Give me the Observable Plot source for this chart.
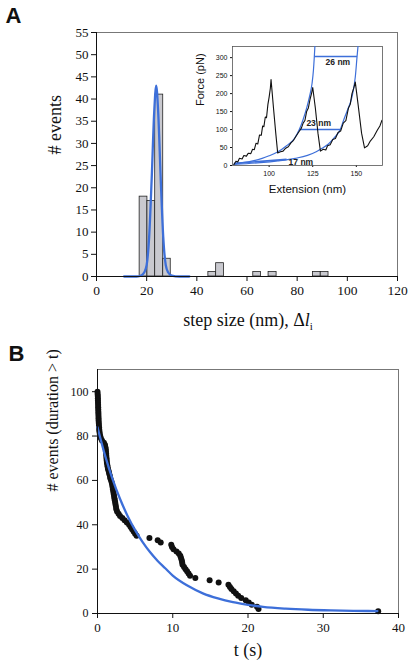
<!DOCTYPE html>
<html><head><meta charset="utf-8">
<script src="https://cdn.jsdelivr.net/npm/d3@7"></script>
<script src="https://cdn.jsdelivr.net/npm/@observablehq/plot@0.6"></script>
<style>
body{margin:0;background:#fff;}
#fig{position:relative;width:411px;height:671px;overflow:hidden;background:#fff;}
#fig > svg{position:absolute;}
</style></head><body><div id="fig"></div>
<script>
// ---------- Panel A: histogram of step sizes ----------
const barLeft  = [17.2, 20.3, 23.4, 26.6, 44.6, 47.7, 62.5, 68.6, 86.3, 89.4];
const barRight = [20.3, 23.4, 26.6, 29.6, 47.7, 50.8, 65.6, 71.8, 89.4, 92.5];
const barCount = [18, 17, 41, 4, 1, 3, 1, 1, 1, 1];
const gaussX = [11, 16, 18, 19, 20, 21, 22, 23, 23.8, 24.6, 25.6, 26.6, 27.6, 28.6, 30, 33, 37];
const gaussY = [0, 0, 0.3, 0.9, 2.6, 9, 22, 37, 43, 37, 22, 9, 2.6, 0.9, 0.2, 0, 0];
const xTicksA = [0, 20, 40, 60, 80, 100, 120];
const yTicksA = [0, 5, 10, 15, 20, 25, 30, 35, 40, 45, 50, 55];

// ---------- Panel A inset: force-extension trace ----------
const traceX = [79.7,81,82,83,84.5,85.5,87,88,89.5,90.5,91.5,92.5,93.5,94.5,95.5,96.3,97,97.8,98.5,99.3,100,100.7,101.1,102.5,103.8,104.9,106.5,108,109.5,111,112.5,114,115.5,117,118.5,119.5,120.5,121.5,122.5,123.5,124.3,125,126.5,128,129.4,131,132.5,133.5,135,136.5,138,139.5,141,142.5,144,145.5,146.5,147.5,148.5,149.4,151,153,154.7,156.5,158,160,162,163.5,164.7];
const traceY = [2,12,10,20,18,28,26,34,33,45,44,62,60,85,84,110,108,135,133,170,190,215,239,160,90,35,38,40,48,52,63,70,82,93,104,118,125,150,160,185,200,217,160,90,40,45,43,55,58,72,75,92,96,118,125,160,170,200,215,232,170,90,49,55,68,80,98,110,126];
const wlcAX = [80, 90, 96, 100, 105, 110, 114.5, 117.3, 119.5, 121.7, 123.3, 124.6, 125.4, 125.9, 126.4];
const wlcAY = [5, 12, 20, 27, 38, 55, 75, 100, 128, 163, 195, 228, 265, 302, 345];
const wlcBX = [80, 95, 105, 115, 122, 127, 130, 134, 137.5, 140.8, 142.7, 145, 147.5, 149.4, 150.4, 151.2];
const wlcBY = [3, 8, 13, 20, 28, 38, 47, 60, 78, 100, 126, 155, 191, 246, 302, 345];
const stepLabels = ["26 nm", "23 nm", "17 nm"];
const stepX1 = [125.9, 117.3, 80];
const stepX2 = [150.4, 140.8, 110];
const stepF1 = [303, 100, 6];
const stepF2 = [303, 100, 17];
const labelX = [139.4, 128.4, 118.2];
const labelF = [286, 117, 10];
const insetXTicks = [100, 125, 150];
const insetYTicks = [0, 50, 100, 150, 200, 250, 300];

// ---------- Panel B: survival of events ----------
const timeS = [0.0,0.02,0.04,0.05,0.06,0.07,0.08,0.09,0.1,0.11,0.12,0.13,0.14,0.15,0.17,0.19,0.21,0.23,0.26,0.3,0.36,0.45,0.6,0.85,1.0,1.05,1.1,1.12,1.15,1.17,1.2,1.22,1.25,1.3,1.35,1.4,1.5,1.55,1.65,1.7,1.8,1.9,1.95,2.0,2.05,2.1,2.15,2.2,2.25,2.3,2.35,2.4,2.45,2.5,2.6,2.8,3.0,3.3,3.6,3.9,4.2,4.4,4.6,4.8,5.0,5.2,6.9,8.0,8.4,9.8,9.9,10.1,10.5,10.8,11.0,11.1,11.2,11.25,11.3,11.5,11.7,11.9,12.1,12.3,13.0,14.9,16.1,17.4,17.6,17.8,18.1,18.4,18.7,19.1,19.7,20.1,20.5,21.2,21.4,37.3];
const eventsN = [100,99,98,97,96,95,94,93,92,91,90,89,88,87,86,85,84,83,82,81,80,79,78,77,76,75,74,73,72,71,70,69,68,67,66,65,64,63,62,61,60,59,58,57,56,55,54,53,52,51,50,49,48,47,46,45,44,43,42,41,40,39,38,37,36,35,34,33,32,31,30,29,28,27,26,25,24,23,22,21,20,19,18,17,16,15,14,13,12,11,10,9,8,7,6,5,4,3,2,1];
const fitT = [0, 1, 2, 3, 4, 5, 6, 7, 8, 9, 10, 12, 14, 16, 18, 20, 22, 25, 28, 31, 34, 37.2];
const fitN = [84, 71.3, 60.6, 51.6, 44, 37.6, 32.2, 27.6, 23.7, 20.4, 17.1, 12.5, 9.1, 6.8, 5.1, 3.9, 3.0, 2.2, 1.7, 1.4, 1.2, 1.1];
const xTicksB = [0, 10, 20, 30, 40];
const yTicksB = [0, 20, 40, 60, 80, 100];

// ---------- build tables ----------
const bars = barCount.map((n, i) => ({x1: barLeft[i], x2: barRight[i], n}));
const gauss = gaussX.map((x, i) => ({x, y: gaussY[i]}));
const trace = traceX.map((x, i) => ({x, y: traceY[i]}));
const wlcA = wlcAX.map((x, i) => ({x, y: wlcAY[i]}));
const wlcB = wlcBX.map((x, i) => ({x, y: wlcBY[i]}));
const steps = stepLabels.map((s, i) => ({s, x1: stepX1[i], x2: stepX2[i], y1: stepF1[i], y2: stepF2[i], lx: labelX[i], ly: labelF[i]}));
const events = timeS.map((t, i) => ({t, n: eventsN[i]}));
const fit = fitT.map((t, i) => ({t, n: fitN[i]}));

const blue = "#3d6fd9";
const serif = "'Liberation Serif', 'Times New Roman', serif";
const sans = "'Liberation Sans', Arial, sans-serif";
const fig = document.getElementById("fig");

// Panel A
const plotA = Plot.plot({
  width: 411, height: 340,
  marginLeft: 96, marginRight: 14, marginTop: 32, marginBottom: 64,
  style: {fontFamily: serif, fontSize: "13px", color: "#111", background: "transparent", overflow: "visible"},
  x: {domain: [0, 120]},
  y: {domain: [0, 55]},
  marks: [
    Plot.frame({stroke: "#777", strokeWidth: 1}),
    Plot.axisX({ticks: xTicksA, tickSize: 5, tickPadding: 4, label: null, fontSize: 13.5}),
    Plot.axisY({ticks: yTicksA, tickSize: 5, tickPadding: 3, label: null}),
    Plot.rectY(bars, {x1: "x1", x2: "x2", y: "n", fill: "#c9c9cf", stroke: "#222", strokeWidth: 0.8}),
    Plot.line(gauss, {x: "x", y: "y", stroke: blue, strokeWidth: 2.3, curve: "monotone-x"}),
    Plot.ruleX([0], {stroke: "#111"}),
    Plot.ruleY([0], {stroke: "#111", strokeWidth: 1.2}),
    Plot.text(["# events"], {frameAnchor: "left", dx: -41, rotate: -90, fontSize: 18, fill: "#111"}),
    Plot.text(["A"], {frameAnchor: "top-left", dx: -91, dy: -25, textAnchor: "start", lineAnchor: "top", fontSize: 22, fontWeight: "bold", fontFamily: sans, fill: "#111"})
  ]
});
plotA.style.left = "0px"; plotA.style.top = "0px";
{
  const t = d3.select(plotA).append("text")
    .attr("x", 248).attr("y", 326).attr("text-anchor", "middle")
    .attr("font-family", serif).attr("font-size", 18).attr("fill", "#111");
  t.append("tspan").text("step size (nm), \u0394");
  t.append("tspan").attr("font-style", "italic").text("l");
  t.append("tspan").attr("font-size", 11).attr("dy", 4).text("i");
}
fig.appendChild(plotA);

// Inset
const plotI = Plot.plot({
  width: 202, height: 162,
  marginLeft: 44, marginRight: 8, marginTop: 6, marginBottom: 37,
  style: {fontFamily: sans, fontSize: "7px", color: "#111", background: "#fff", overflow: "visible"},
  x: {domain: [79, 165]},
  y: {domain: [0, 331]},
  marks: [
    Plot.axisX({ticks: insetXTicks, tickSize: 2, tickPadding: 4, label: null}),
    Plot.axisY({ticks: insetYTicks, tickSize: 2, tickPadding: 3, label: null}),
    Plot.frame({stroke: "#555", strokeWidth: 0.8}),
    Plot.line(wlcA, {x: "x", y: "y", stroke: blue, strokeWidth: 1.2, curve: "monotone-x", clip: true}),
    Plot.line(wlcB, {x: "x", y: "y", stroke: blue, strokeWidth: 1.2, curve: "monotone-x", clip: true}),
    Plot.link(steps, {x1: "x1", x2: "x2", y1: "y1", y2: "y2", stroke: blue, strokeWidth: 1.6}),
    Plot.line(trace, {x: "x", y: "y", stroke: "#111", strokeWidth: 1.1, clip: true}),
    Plot.text(steps, {x: "lx", y: "ly", text: "s", fontSize: 8.5, fontWeight: "bold", fill: "#222"}),
    Plot.text(["Force (pN)"], {frameAnchor: "left", dx: -32, rotate: -90, fontSize: 11, fill: "#111"}),
    Plot.text(["Extension (nm)"], {frameAnchor: "bottom", dy: 27, fontSize: 11.5, fill: "#111"})
  ]
});
plotI.style.left = "188px"; plotI.style.top = "40px";
fig.appendChild(plotI);

// Panel B
const plotB = Plot.plot({
  width: 411, height: 331,
  marginLeft: 97, marginRight: 13, marginTop: 29, marginBottom: 58,
  style: {fontFamily: serif, fontSize: "12px", color: "#111", background: "transparent", overflow: "visible"},
  x: {domain: [0, 40]},
  y: {domain: [0, 110]},
  marks: [
    Plot.frame({stroke: "#777", strokeWidth: 1}),
    Plot.axisX({ticks: xTicksB, tickSize: 5, tickPadding: 4, label: null, fontSize: 13}),
    Plot.axisY({ticks: yTicksB, tickSize: 5, tickPadding: 4, label: null}),
    Plot.dot(events, {x: "t", y: "n", r: 3, fill: "#111", stroke: "none"}),
    Plot.line(fit, {x: "t", y: "n", stroke: blue, strokeWidth: 2.3, curve: "monotone-x"}),
    Plot.ruleX([0], {stroke: "#111"}),
    Plot.ruleY([0], {stroke: "#111", strokeWidth: 1.2}),
    Plot.text(["# events (duration > t)"], {frameAnchor: "left", dx: -45, rotate: -90, fontSize: 16, fill: "#111"}),
    Plot.text(["t (s)"], {frameAnchor: "bottom", dy: 42, fontSize: 18, fill: "#111"}),
    Plot.text(["B"], {frameAnchor: "top-left", dx: -89, dy: -24, textAnchor: "start", lineAnchor: "top", fontSize: 22, fontWeight: "bold", fontFamily: sans, fill: "#111"})
  ]
});
plotB.style.left = "0px"; plotB.style.top = "340px";
fig.appendChild(plotB);
</script></body></html>
